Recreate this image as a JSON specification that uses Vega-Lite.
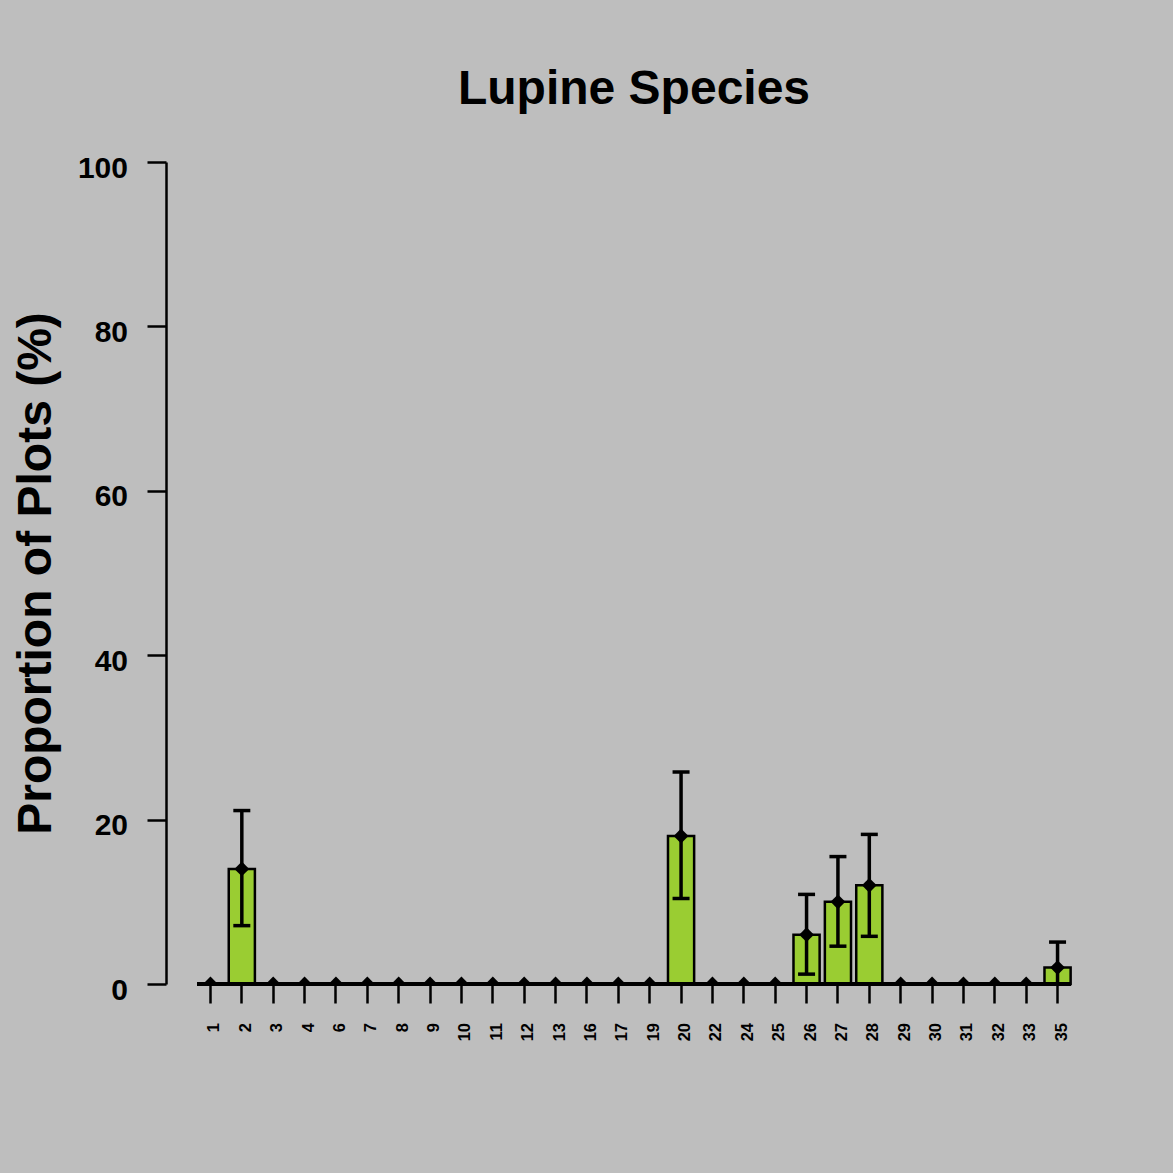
{
  "$schema": "https://vega.github.io/schema/vega-lite/v6.json",
  "autosize": {"type": "none"},
  "padding": {"left": 166, "top": 162, "right": 71, "bottom": 189},
  "width": 936,
  "height": 822,
  "background": "#BEBEBE",
  "title": {
    "text": "Lupine Species",
    "font": "Liberation Sans",
    "fontSize": 48,
    "fontWeight": "bold",
    "color": "black",
    "anchor": "middle",
    "baseline": "alphabetic",
    "offset": 1
  },
  "data": {
    "values": [
      {"site": "1", "pct": 0, "lower": null, "upper": null},
      {"site": "2", "pct": 14, "lower": 7.1, "upper": 21.1},
      {"site": "3", "pct": 0, "lower": null, "upper": null},
      {"site": "4", "pct": 0, "lower": null, "upper": null},
      {"site": "6", "pct": 0, "lower": null, "upper": null},
      {"site": "7", "pct": 0, "lower": null, "upper": null},
      {"site": "8", "pct": 0, "lower": null, "upper": null},
      {"site": "9", "pct": 0, "lower": null, "upper": null},
      {"site": "10", "pct": 0, "lower": null, "upper": null},
      {"site": "11", "pct": 0, "lower": null, "upper": null},
      {"site": "12", "pct": 0, "lower": null, "upper": null},
      {"site": "13", "pct": 0, "lower": null, "upper": null},
      {"site": "16", "pct": 0, "lower": null, "upper": null},
      {"site": "17", "pct": 0, "lower": null, "upper": null},
      {"site": "19", "pct": 0, "lower": null, "upper": null},
      {"site": "20", "pct": 18, "lower": 10.4, "upper": 25.8},
      {"site": "22", "pct": 0, "lower": null, "upper": null},
      {"site": "24", "pct": 0, "lower": null, "upper": null},
      {"site": "25", "pct": 0, "lower": null, "upper": null},
      {"site": "26", "pct": 6, "lower": 1.2, "upper": 10.9},
      {"site": "27", "pct": 10, "lower": 4.6, "upper": 15.5},
      {"site": "28", "pct": 12, "lower": 5.8, "upper": 18.2},
      {"site": "29", "pct": 0, "lower": null, "upper": null},
      {"site": "30", "pct": 0, "lower": null, "upper": null},
      {"site": "31", "pct": 0, "lower": null, "upper": null},
      {"site": "32", "pct": 0, "lower": null, "upper": null},
      {"site": "33", "pct": 0, "lower": null, "upper": null},
      {"site": "35", "pct": 2, "lower": 0, "upper": 5.1}
    ]
  },
  "encoding": {
    "x": {
      "field": "site",
      "type": "nominal",
      "sort": null,
      "scale": {"paddingInner": 0.1667, "paddingOuter": 1.108},
      "axis": {
        "title": null,
        "domain": false,
        "ticks": true,
        "tickSize": 19,
        "tickWidth": 2.5,
        "tickColor": "black",
        "labelAngle": -90,
        "labelAlign": "right",
        "labelBaseline": "middle",
        "labelPadding": 19.5,
        "labelOffset": 4,
        "labelFont": "Liberation Sans",
        "labelFontSize": 16.5,
        "labelFontWeight": "bold",
        "labelColor": "black"
      }
    }
  },
  "layer": [
    {
      "mark": {"type": "bar", "fill": "#9ACD32", "stroke": "black", "strokeWidth": 2.5},
      "encoding": {
        "y": {
          "field": "pct",
          "type": "quantitative",
          "scale": {"domain": [0, 100], "nice": false, "zero": true},
          "axis": {
            "title": "Proportion of Plots (%)",
            "titleFont": "Liberation Sans",
            "titleFontSize": 48,
            "titleFontWeight": "bold",
            "titleColor": "black",
            "titleAngle": -90,
            "titleBaseline": "alphabetic",
            "titleAlign": "center",
            "titleX": -116,
            "titleY": 411,
            "values": [0, 20, 40, 60, 80, 100],
            "grid": false,
            "domain": true,
            "domainColor": "black",
            "domainWidth": 2.5,
            "tickSize": 19,
            "tickWidth": 2.5,
            "tickColor": "black",
            "labelFont": "Liberation Sans",
            "labelFontSize": 30,
            "labelFontWeight": "bold",
            "labelColor": "black",
            "labelPadding": 19.5,
            "labelOffset": 6,
            "labelBaseline": "middle"
          }
        }
      }
    },
    {
      "mark": {"type": "rule", "color": "black", "strokeWidth": 3},
      "encoding": {
        "x": {"datum": "1", "bandPosition": 0},
        "x2": {"datum": "35", "bandPosition": 1},
        "y": {"datum": 0}
      }
    },
    {
      "transform": [{"filter": "datum.upper != null"}],
      "mark": {"type": "rule", "color": "black", "strokeWidth": 3.5, "clip": true},
      "encoding": {
        "y": {"field": "lower", "type": "quantitative"},
        "y2": {"field": "upper"}
      }
    },
    {
      "transform": [{"filter": "datum.upper != null"}],
      "mark": {"type": "tick", "color": "black", "size": 17, "thickness": 3.5, "opacity": 1, "clip": true},
      "encoding": {
        "y": {"field": "upper", "type": "quantitative"}
      }
    },
    {
      "transform": [{"filter": "datum.upper != null"}],
      "mark": {"type": "tick", "color": "black", "size": 17, "thickness": 3.5, "opacity": 1, "clip": true},
      "encoding": {
        "y": {"field": "lower", "type": "quantitative"}
      }
    },
    {
      "mark": {"type": "point", "shape": "diamond", "filled": true, "color": "black", "opacity": 1, "size": 220, "clip": true},
      "encoding": {
        "y": {"field": "pct", "type": "quantitative"}
      }
    }
  ],
  "config": {
    "view": {"stroke": null},
    "axis": {"grid": false}
  }
}
